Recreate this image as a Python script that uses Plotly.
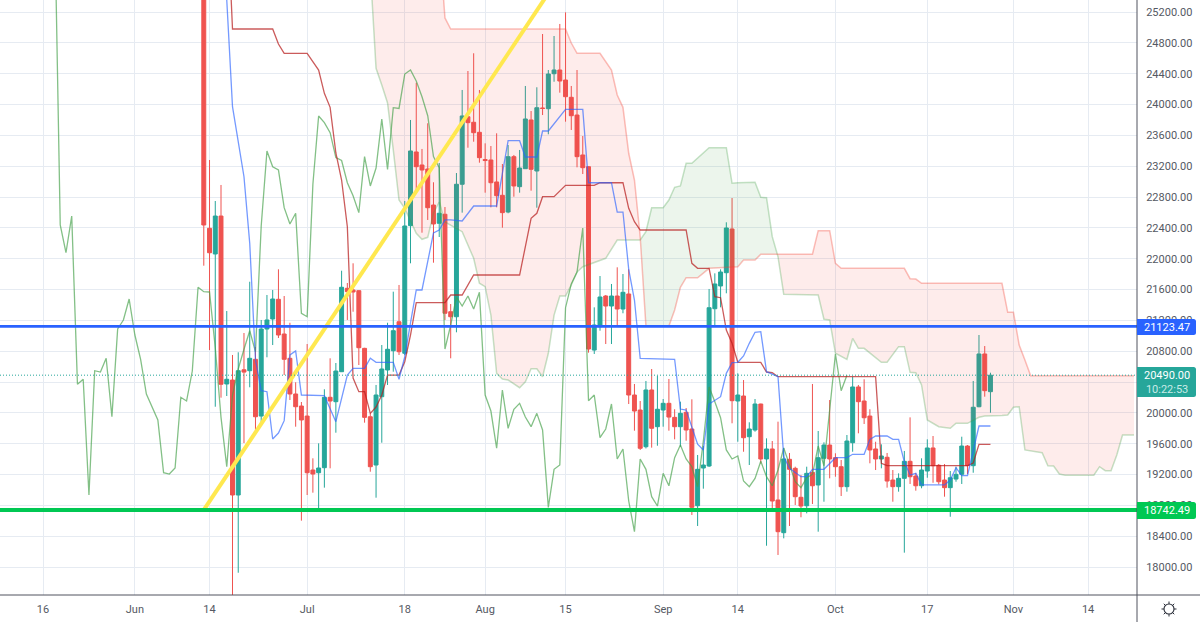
import numpy as np
import pandas as pd
import plotly.graph_objects as go

# Daily BTC/USD candles, session 0 is 2022-06-13
start_date = pd.Timestamp("2022-06-13")

opens = [
    26574, 22395, 22062, 22554, 20376, 20427, 18936, 20560, 20548, 20696,
    19960, 21089, 21219, 21474, 21024, 20709, 20246, 20090, 19960, 19260,
    19225, 19290, 20203, 20146, 20535, 21617, 21595, 21586, 20838, 19951,
    19325, 20211, 20557, 20807, 21183, 20774, 22429, 23385, 23216, 23164,
    22697, 22460, 22577, 21313, 21248, 22966, 23842, 23770, 23640, 23287,
    23281, 22996, 22823, 22606, 23324, 22935, 23168, 23800, 23138, 23955,
    23946, 24400, 24448, 24318, 24094, 23864, 23346, 23194, 20816, 21119,
    21517, 21387, 21517, 21348, 21543, 20233, 20038, 19562, 20298, 19822,
    20038, 20125, 19943, 19822, 20008, 19792, 18797, 19286, 19312, 21352,
    21647, 21819, 22386, 20155, 20220, 19692, 19779, 20116, 19403, 19533,
    18871, 18447, 19399, 19282, 18906, 18797, 19230, 19066, 19412, 19584,
    19420, 19303, 19044, 19614, 20337, 20155, 19960, 19533, 19403, 19425,
    19130, 19044, 19152, 19373, 19182, 19056, 19247, 19546, 19321, 19130,
    19031, 19143, 19204, 19571, 19316, 20081, 20765, 20276,
]
highs = [
    26895, 23281, 22749, 22957, 21322, 20752, 20787, 21037, 21702, 20855,
    21206, 21530, 21595, 21863, 21517, 21170, 20398, 20142, 20894, 19412,
    19606, 20307, 20709, 20648, 21845, 21686, 21941, 21590, 20845, 19999,
    20363, 20881, 21170, 21573, 21660, 22749, 23800, 24283, 23424, 23757,
    22992, 23242, 22671, 21413, 23112, 24189, 24435, 24665, 24189, 23497,
    23462, 23627, 23229, 23475, 23346, 23411, 24241, 23916, 24224, 24915,
    24448, 24889, 25045, 25196, 24241, 24448, 23592, 23200, 21370, 21776,
    21530, 21673, 21889, 21802, 21863, 20376, 20155, 20415, 20570, 20483,
    20181, 20441, 20048, 20146, 20064, 20177, 19455, 19571, 21608, 21811,
    21863, 22473, 22788, 20514, 20427, 19879, 20181, 20120, 19671, 19636,
    19887, 19546, 19481, 19303, 19195, 19303, 20376, 19766, 19619, 20168,
    19477, 19390, 19714, 20470, 20363, 20437, 20048, 19627, 19593, 19481,
    19260, 19217, 19507, 19943, 19221, 19412, 19658, 19701, 19338, 19338,
    19247, 19303, 19692, 19584, 20415, 21011, 20868, 20522,
]
lows = [
    21910, 20816, 20081, 20198, 20220, 17620, 17928, 19610, 20333, 19744,
    19874, 20722, 20881, 20972, 20492, 20168, 19822, 18603, 18936, 18966,
    18767, 19031, 19282, 19744, 20531, 21206, 21313, 20622, 19874, 19238,
    18901, 19614, 20363, 20535, 20752, 20752, 21941, 22892, 22338, 22503,
    21949, 22282, 21206, 20709, 21046, 22598, 23440, 23518, 23246, 22857,
    22667, 22667, 22403, 22590, 22805, 22857, 23168, 22883, 22662, 23864,
    23614, 24296, 24154, 23778, 23670, 23186, 23099, 20782, 20765, 21067,
    20894, 20894, 21141, 21293, 20116, 19770, 19520, 19540, 19550, 19575,
    19822, 19770, 19658, 19562, 19640, 18677, 18534, 19018, 19300, 21119,
    21370, 21552, 19866, 19627, 19497, 19325, 19757, 19347, 18278, 18719,
    18158, 18374, 18534, 18806, 18647, 18698, 18819, 18460, 18849, 19152,
    19173, 18923, 18979, 19497, 19736, 19857, 19347, 19260, 19282, 19031,
    18849, 18979, 18188, 19079, 18992, 19023, 19160, 19095, 19074, 18914,
    18654, 19108, 19079, 19208, 19225, 20074, 20211, 20003,
]
closes = [
    22438, 22078, 22554, 20372, 20437, 18936, 20548, 20530, 20709, 19951,
    21089, 21206, 21478, 21011, 20696, 20246, 20081, 19909, 19225, 19208,
    19286, 20203, 20155, 20544, 21630, 21573, 21569, 20846, 19943, 19303,
    20233, 20570, 20826, 21067, 20794, 22425, 23398, 23194, 23151, 22662,
    22451, 22590, 21293, 21248, 22966, 23852, 23765, 23635, 23311, 23274,
    22986, 22818, 22598, 23324, 22944, 23177, 23813, 23160, 23959, 23950,
    24396, 24448, 24305, 24102, 23855, 23324, 23181, 20829, 21141, 21504,
    21387, 21517, 21348, 21565, 20233, 20025, 19542, 20298, 19801, 20048,
    20125, 19947, 19822, 19995, 19779, 18776, 19269, 19325, 21365, 21673,
    21828, 22399, 20159, 20233, 19679, 19792, 20116, 19403, 19533, 18858,
    18460, 19403, 19269, 18914, 18793, 19217, 19056, 19420, 19584, 19403,
    19303, 19044, 19636, 20337, 20146, 19938, 19520, 19403, 19442, 19117,
    19044, 19152, 19373, 19173, 19056, 19260, 19546, 19316, 19108, 19031,
    19160, 19204, 19571, 19316, 20074, 20765, 20289, 20490,
]
prior_close = 26574
lag_sessions = 25

# Ichimoku lines: session number, value
tenkan_days = [3, 4, 5, 7, 8, 9, 10, 11, 12, 13, 14, 15, 16, 17, 21, 23, 25, 26, 28, 29, 30, 33, 34, 35, 36, 37, 38, 40,
               41, 42, 43, 45, 47, 51, 53, 55, 56, 58, 59, 60, 63, 66, 67, 71, 72, 73, 74, 75, 76, 81, 82, 83, 84, 86,
               87, 88, 90, 91, 92, 93, 94, 95, 96, 97, 98, 100, 101, 102, 104, 105, 106, 108, 110, 112, 113, 115, 116,
               117, 119, 120, 121, 122, 123, 124, 125, 129, 130, 131, 132, 133, 134, 135, 137]
tenkan_vals = [26530, 25356, 23972, 23064, 22200, 20687, 20290, 20276, 19662, 19740, 19900, 20752, 20804, 20233, 20224,
               19887, 20492, 20579, 20579, 20709, 20657, 20657, 20437, 20730, 21167, 21595, 21595, 22334, 22373, 22503,
               22503, 22490, 22684, 22684, 23531, 23531, 23320, 23320, 23657, 23657, 23938, 23938, 22986, 22986, 22606,
               22606, 21863, 21465, 20709, 20700, 20696, 20051, 20038, 19594, 19520, 20116, 20211, 20514, 20652, 20657,
               20739, 20903, 21046, 21054, 20535, 20470, 19433, 19282, 19173, 19173, 19269, 19269, 19420, 19420, 19464,
               19464, 19658, 19701, 19701, 19658, 19658, 19368, 19195, 19217, 19066, 19066, 19130, 19290, 19186, 19186,
               19497, 19831, 19831]

kijun_days = [4, 5, 12, 13, 14, 18, 20, 21, 22, 23, 24, 25, 26, 27, 28, 29, 30, 31, 32, 34, 35, 36, 37, 42, 43, 45, 47,
              55, 57, 58, 59, 61, 63, 68, 69, 73, 74, 75, 76, 84, 85, 86, 88, 89, 90, 91, 92, 93, 97, 98, 99, 100, 117,
              118, 119, 133, 134, 135, 137]
kijun_vals = [26653, 24980, 24980, 24785, 24665, 24665, 24448, 24146, 23964, 23372, 23021, 22416, 20453, 20276, 20276,
              19995, 20077, 20233, 20492, 20492, 20665, 21011, 21430, 21430, 21530, 21530, 21789, 21789, 22525, 22590,
              22805, 22805, 22953, 22953, 22986, 22986, 22654, 22481, 22373, 22373, 21941, 21876, 21876, 21508, 21495,
              21076, 20903, 20657, 20657, 20531, 20522, 20470, 20470, 19347, 19316, 19316, 19351, 19593, 19593]

span_a_days = [29, 30, 31, 32, 33, 34, 35, 37, 38, 39, 40, 41, 42, 45, 47, 48, 49, 50, 51, 52, 53, 55, 56, 57, 58, 59,
               60, 61, 62, 63, 64, 65, 66, 70, 72, 76, 77, 78, 80, 81, 82, 83, 84, 85, 88, 91, 92, 93, 96, 97, 98, 99,
               100, 101, 107, 108, 109, 110, 112, 113, 114, 115, 118, 119, 121, 122, 123, 124, 125, 126, 128, 130, 131,
               133, 135, 136, 139, 140, 141, 142, 143, 146, 147, 148, 149, 150, 155, 156, 157, 158, 159, 160, 162]
span_a_vals = [25745, 24470, 24254, 24020, 23411, 22762, 22654, 22330, 22252, 22278, 22590, 22736, 22477, 22351, 22006,
               21682, 21638, 21270, 20514, 20440, 20427, 20328, 20405, 20574, 20574, 20470, 20774, 21270, 21517, 21517,
               21660, 21828, 21897, 22006, 22243, 22243, 22351, 22662, 22662, 22762, 22927, 22944, 23238, 23238, 23440,
               23440, 22979, 22986, 22992, 22797, 22792, 22286, 22027, 21539, 21530, 21215, 21206, 20774, 20696, 20968,
               20838, 20838, 20657, 20657, 20860, 20860, 20527, 20522, 20363, 19909, 19822, 19801, 19866, 19866, 19944,
               19961, 19967, 19973, 20073, 20081, 19520, 19485, 19316, 19312, 19208, 19192, 19192, 19303, 19251, 19251,
               19455, 19714, 19714]

span_b_days = [28, 41, 42, 43, 63, 64, 65, 69, 71, 72, 73, 74, 75, 76, 77, 81, 82, 83, 84, 86, 88, 93, 94, 96, 97, 106,
               107, 109, 110, 111, 122, 123, 124, 125, 139, 140, 141, 142, 143, 144, 162]
span_b_vals = [27000, 26134, 25123, 24980, 24980, 24798, 24665, 24665, 24448, 24124, 23964, 23368, 23021, 22286, 21128,
               21128, 21335, 21630, 21754, 21754, 21876, 21897, 21984, 21984, 22058, 22058, 22364, 22364, 21941, 21876,
               21876, 21741, 21737, 21682, 21682, 21305, 21305, 20881, 20687, 20483, 20483]

# Sessions where the leading spans cross; the cloud changes colour there
cloud_cross_days = [76.04, 99.9]

support_level = 18742.49
resistance_level = 21123.47
last_price = 20490.00
countdown = "10:22:53"
trend_days = [0, 70]
trend_vals = [18742, 26560]

price_ticks = list(range(18000, 25201, 400))
time_ticks = ["2022-05-16", "2022-06-01", "2022-06-14", "2022-07-01", "2022-07-18", "2022-08-01", "2022-08-15",
              "2022-09-01", "2022-09-14", "2022-10-01", "2022-10-17", "2022-11-01", "2022-11-14"]
time_labels = ["16", "Jun", "14", "Jul", "18", "Aug", "15", "Sep", "14", "Oct", "17", "Nov", "14"]

WIDTH, HEIGHT = 1200, 622
PANE_W, PANE_H = 1137, 595
FONT = "Roboto"
TEXT = "#555963"
GRID = "#e6ebf2"
BULL = "#26a69a"
BEAR = "#ef5350"


def to_dates(days):
    return [start_date + pd.Timedelta(days=float(d)) for d in days]


def cloud_piece(lo, hi):
    """Closed outline of the area between the two leading spans for lo <= session <= hi."""
    a_d = np.array(span_a_days, float)
    a_v = np.array(span_a_vals, float)
    b_d = np.array(span_b_days, float)
    b_v = np.array(span_b_vals, float)
    lo_a = max(lo, a_d[0])
    hi_a = min(hi, a_d[-1])
    da = np.concatenate([[lo_a], a_d[(a_d > lo_a) & (a_d < hi_a)], [hi_a]])
    db = np.concatenate([[lo_a], b_d[(b_d > lo_a) & (b_d < hi_a)], [hi_a]])
    xs = np.concatenate([da, db[::-1]])
    ys = np.concatenate([np.interp(da, a_d, a_v), np.interp(db[::-1], b_d, b_v)])
    return to_dates(xs), ys


def px_x(px):
    """Horizontal window pixel as a paper fraction."""
    return px / PANE_W


def px_y(px):
    """Vertical window pixel, from the top, as a paper fraction."""
    return 1 - px / PANE_H


fig = go.Figure()

# Cloud fill, red while span B is on top and green while span A is
for lo, hi, colour in [
    (-1e9, cloud_cross_days[0], "rgba(244,67,54,0.1)"),
    (cloud_cross_days[0], cloud_cross_days[1], "rgba(67,160,71,0.1)"),
    (cloud_cross_days[1], 1e9, "rgba(244,67,54,0.1)"),
]:
    px_, py_ = cloud_piece(lo, hi)
    fig.add_trace(go.Scatter(x=px_, y=py_, mode="none", fill="toself", fillcolor=colour, hoverinfo="skip"))

line_specs = [
    (span_a_days, span_a_vals, "rgba(67,160,71,0.3)", 1.5),
    (span_b_days, span_b_vals, "rgba(244,67,54,0.34)", 1.5),
    ([d - lag_sessions for d in range(-1, len(closes))], [prior_close] + closes, "rgba(67,160,71,0.66)", 1.3),
    (kijun_days, kijun_vals, "rgba(183,28,28,0.72)", 1.3),
    (tenkan_days, tenkan_vals, "rgba(41,98,255,0.65)", 1.3),
]
for days, vals, colour, lw in line_specs:
    fig.add_trace(go.Scatter(x=to_dates(days), y=vals, mode="lines", line=dict(color=colour, width=lw), hoverinfo="skip"))

# Hand-drawn rising trend line
fig.add_trace(go.Scatter(x=to_dates(trend_days), y=trend_vals, mode="lines",
                         line=dict(color="#ffe84f", width=4), hoverinfo="skip"))

fig.add_trace(go.Candlestick(
    x=to_dates(range(len(closes))), open=opens, high=highs, low=lows, close=closes,
    increasing=dict(line=dict(color=BULL, width=1), fillcolor=BULL),
    decreasing=dict(line=dict(color=BEAR, width=1), fillcolor=BEAR),
    hoverinfo="skip",
))

x_min = start_date + pd.Timedelta(days=-35.49)
x_max = start_date + pd.Timedelta(days=162.52)
y_min, y_max = 17639, 25356

# Horizontal levels and the last-price marker sit above the candles
fig.add_trace(go.Scatter(x=[x_min, x_max], y=[last_price, last_price], mode="lines",
                         line=dict(color=BULL, width=1, dash="1px,2px"), hoverinfo="skip"))
fig.add_trace(go.Scatter(x=[x_min, x_max], y=[resistance_level] * 2, mode="lines",
                         line=dict(color="#2962ff", width=2.8), hoverinfo="skip"))
fig.add_trace(go.Scatter(x=[x_min, x_max], y=[support_level] * 2, mode="lines",
                         line=dict(color="#00c853", width=4), hoverinfo="skip"))

fig.update_layout(
    width=WIDTH, height=HEIGHT, showlegend=False, paper_bgcolor="white", plot_bgcolor="white",
    margin=dict(l=0, r=WIDTH - PANE_W, t=0, b=HEIGHT - PANE_H),
    boxgap=0.02,
    font=dict(family=FONT, size=11, color=TEXT),
    xaxis=dict(type="date", range=[x_min, x_max], rangeslider=dict(visible=False), tickmode="array",
               tickvals=time_ticks, ticktext=time_labels, showgrid=True, gridcolor=GRID, gridwidth=1.2,
               zeroline=False, showline=False, ticks="outside", ticklen=4, tickcolor="rgba(0,0,0,0)"),
    yaxis=dict(side="right", range=[y_min, y_max], tickmode="array", tickvals=price_ticks,
               ticktext=[f"{v:.2f}" for v in price_ticks], showgrid=True, gridcolor=GRID, gridwidth=1.2,
               zeroline=False, showline=False, ticks="outside", ticklen=6, tickcolor="rgba(0,0,0,0)"),
)

# Pane borders run out to the window edges
frame = "#50535e"
fig.add_shape(type="line", xref="paper", yref="paper", x0=0, x1=px_x(WIDTH), y0=0, y1=0,
              line=dict(color=frame, width=1))
fig.add_shape(type="line", xref="paper", yref="paper", x0=1, x1=1, y0=px_y(HEIGHT), y1=1,
              line=dict(color=frame, width=1))


def badge_path(top, bottom, left=1137, right=1196, r=2.5):
    """Scale badge outline with rounded right-hand corners."""
    pts = [
        f"M{px_x(left)},{px_y(top)}",
        f"L{px_x(right - r)},{px_y(top)}",
        f"Q{px_x(right)},{px_y(top)} {px_x(right)},{px_y(top + r)}",
        f"L{px_x(right)},{px_y(bottom - r)}",
        f"Q{px_x(right)},{px_y(bottom)} {px_x(right - r)},{px_y(bottom)}",
        f"L{px_x(left)},{px_y(bottom)} Z",
    ]
    return " ".join(pts)


# Price badges on the scale
badges = [
    (319, 335, f"{resistance_level:.2f}", "#2962ff"),
    (502, 519, f"{support_level:.2f}", "#00c853"),
    (367, 397, f"{last_price:.2f}<br><span style='color:#c9ebe7'>{countdown}</span>", BULL),
]
for top, bottom, label, colour in badges:
    fig.add_shape(type="path", xref="paper", yref="paper", path=badge_path(top, bottom),
                  fillcolor=colour, line=dict(width=0), layer="above")
    fig.add_annotation(xref="paper", yref="paper", x=px_x(1167), y=px_y((top + bottom) / 2), xanchor="center",
                       yanchor="middle", text=label, showarrow=False, align="center",
                       font=dict(family=FONT, size=11, color="white"))

# Settings icon in the corner: a ring with small rays
icon = "#2a2e39"
cx, cy = 1169, 609
fig.add_shape(type="circle", xref="paper", yref="paper", x0=px_x(cx - 5), x1=px_x(cx + 5), y0=px_y(cy + 5), y1=px_y(cy - 5),
              line=dict(color=icon, width=1.1))
for dx, dy in [(0, -1), (0, 1), (-1, 0), (1, 0), (0.7, 0.7), (-0.7, 0.7), (0.7, -0.7), (-0.7, -0.7)]:
    fig.add_shape(type="line", xref="paper", yref="paper", x0=px_x(cx + 5 * dx), x1=px_x(cx + 7.5 * dx),
                  y0=px_y(cy + 5 * dy), y1=px_y(cy + 7.5 * dy), line=dict(color=icon, width=1))

fig.write_html("out.html")
